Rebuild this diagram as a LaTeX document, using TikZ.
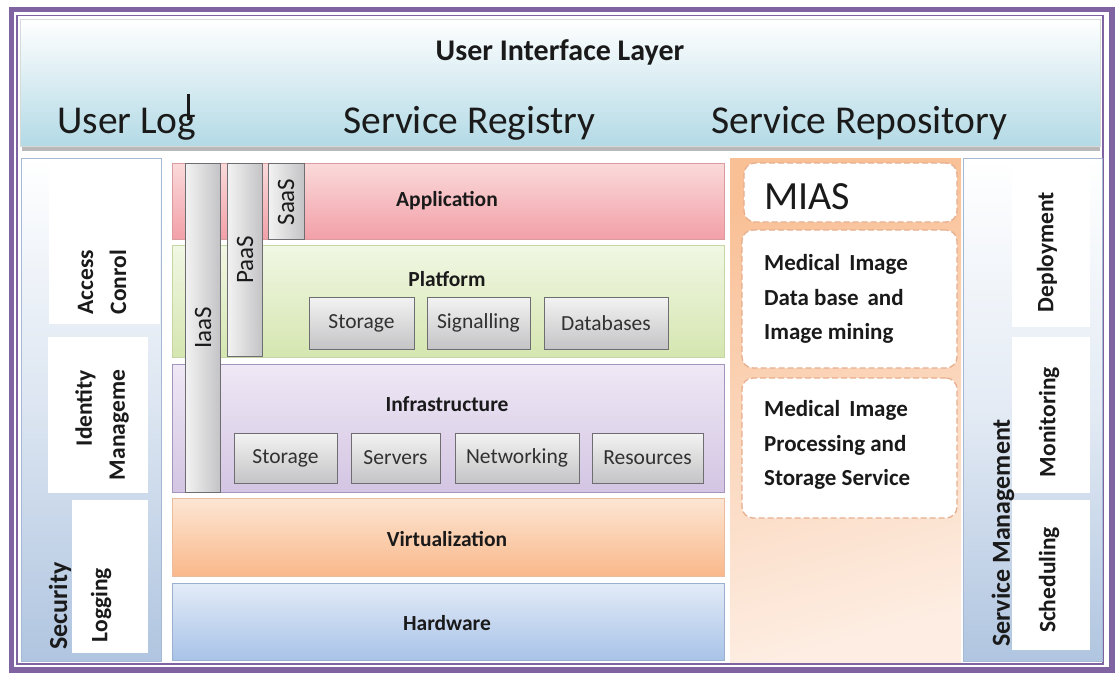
\documentclass[tikz,border=0pt]{standalone}
\usepackage{fontspec}
\setmainfont{Carlito}
\usetikzlibrary{shadings}
\definecolor{frame}{HTML}{8064A2}
\definecolor{hdrbot}{HTML}{B3DAE6}
\definecolor{secbot}{HTML}{B0C5E0}
\definecolor{secline}{HTML}{A5B9D4}
\definecolor{appt}{HTML}{FADADA}\definecolor{appb}{HTML}{F2A0A8}\definecolor{appl}{HTML}{D99AA0}
\definecolor{plat}{HTML}{F1F7E4}\definecolor{plab}{HTML}{D5E6B0}\definecolor{plal}{HTML}{C5D6A5}
\definecolor{inft}{HTML}{EFE8F5}\definecolor{infb}{HTML}{D3C5E3}\definecolor{infl}{HTML}{A595BE}
\definecolor{virt}{HTML}{FDE6D4}\definecolor{virb}{HTML}{F9B88A}\definecolor{virl}{HTML}{E8BC9C}
\definecolor{hwt}{HTML}{E3EBF7}\definecolor{hwb}{HTML}{A8C3E8}\definecolor{hwl}{HTML}{9AB0CE}
\definecolor{miast}{HTML}{F9C096}\definecolor{miasb}{HTML}{FDEDE2}
\definecolor{dashc}{HTML}{E6AF8E}
\definecolor{boxt}{HTML}{F3F3F3}\definecolor{boxb}{HTML}{C4C4C6}\definecolor{boxl}{HTML}{6E6E72}
\definecolor{txt}{HTML}{1A1A1A}
\tikzset{
  panel/.style={anchor=north west, inner sep=0pt, outer sep=0pt},
  band/.style={panel, line width=0.8pt},
  blabel/.style={inner sep=0pt, text=txt, font=\bfseries\fontsize{21.5}{25}\selectfont},
  gbox/.style={panel, draw=boxl, line width=1pt, top color=boxt, bottom color=boxb,
     text=txt!90, font=\fontsize{21.5}{25}\selectfont},
  vbar/.style={panel, draw=boxl, line width=1pt, left color=boxt, right color=boxb},
  vtext/.style={rotate=90, inner sep=0pt, text=txt, font=\fontsize{25}{27}\selectfont},
  stext/.style={rotate=90, inner sep=0pt, text=txt, font=\bfseries\fontsize{23.5}{33}\selectfont},
  dbox/.style={panel, draw=dashc, dash pattern=on 6pt off 3pt, line width=1.3pt, fill=white, rounded corners=11pt},
  wbox/.style={panel, fill=white},
  htext/.style={inner sep=0pt, text=txt, font=\fontsize{39.5}{42}\selectfont},
  mtext/.style={inner sep=0pt, anchor=west, align=left, text=txt, font=\bfseries\fontsize{23}{34.5}\selectfont}
}
\begin{document}
\begin{tikzpicture}[x=1pt,y=-1pt]
\useasboundingbox (0,0) rectangle (1120,673);
\fill[white] (0,0) rectangle (1120,673);
% outer frame
\draw[frame, line width=5.5pt] (11.5,9.5) rectangle (1112,670);
\draw[frame, line width=1.5pt] (17,15.5) rectangle (1103,664);
% header
\fill[gray!55] (22,146) rectangle (1100,151);
\node[panel, draw=gray!30, line width=0.6pt, top color=white, bottom color=hdrbot,
  minimum width=1080, minimum height=127] (hdr) at (20,19) {};
\node[inner sep=0pt, text=txt, font=\bfseries\fontsize{30}{32}\selectfont] (title) at (560,52) {User Interface Layer};
\node[htext, anchor=base west] (ulog) at (57,133) {User Log};
\node[htext, anchor=base west] (sreg) at (343,133) {Service Registry};
\node[htext, anchor=base west] (srep) at (711,133) {Service Repository};
\coordinate (cur1) at (188.5,94);
\coordinate (cur2) at (188.5,120);
\draw[txt, line width=2.2pt] (cur1) -- (cur2);
% security panel
\node[panel, draw=secline, line width=1pt, top color=white, bottom color=secbot, middle color=white!55!secbot,
  minimum width=140, minimum height=503] (sec) at (21,158) {};
\node[wbox, minimum width=111, minimum height=165] (acc) at (49,159) {};
\node[wbox, minimum width=100, minimum height=156] (idm) at (48,337) {};
\node[wbox, minimum width=76, minimum height=153] (logb) at (72,500) {};
\node[stext, align=center] (acct) at (102,282) {Access\\Conrol};
\node[stext, align=right] (idmt) at (102,425) {Identity\\Manageme};
\node[stext] (logt) at (101,605) {Logging};
\node[stext, font=\bfseries\fontsize{26}{30}\selectfont] (sect) at (60,606) {Security};
% service management panel
\node[panel, draw=secline, line width=1pt, top color=white, bottom color=secbot, middle color=white!65!secbot,
  minimum width=139, minimum height=503] (sm) at (963,158) {};
\node[wbox, minimum width=78, minimum height=162] (dep) at (1012,165) {};
\node[wbox, minimum width=78, minimum height=156] (mon) at (1012,337) {};
\node[wbox, minimum width=78, minimum height=150] (sch) at (1012,500) {};
\node[stext] (dept) at (1047,252) {Deployment};
\node[stext] (mont) at (1049,422) {Monitoring};
\node[stext] (scht) at (1049,580) {Scheduling};
\node[stext, font=\bfseries\fontsize{26}{30}\selectfont] (smt) at (1003,533) {Service Management};
% MIAS panel
\node[panel, top color=miast, bottom color=miasb, shading angle=15, minimum width=231, minimum height=504] (miasp) at (730,158) {};
\node[dbox, minimum width=213, minimum height=59] (miasb) at (744,163) {};
\node[inner sep=0pt, anchor=west, text=txt, font=\fontsize{40}{42}\selectfont] (miast) at (764,197) {MIAS};
\node[dbox, minimum width=215, minimum height=138] (mid) at (742,230) {};
\node[mtext] (midt) at (764,299) {Medical\,\ Image\\Data base\, and\\Image mining};
\node[dbox, minimum width=215, minimum height=140] (mip) at (742,378) {};
\node[mtext] (mipt) at (764,445) {Medical\,\ Image\\Processing and\\Storage Service};
% bands
\node[band, draw=appl, top color=appt, bottom color=appb, minimum width=552, minimum height=76] (app) at (172,163) {};
\node[band, draw=plal, top color=plat, bottom color=plab, minimum width=552, minimum height=112] (plat) at (172,245) {};
\node[band, draw=infl, top color=inft, bottom color=infb, minimum width=552, minimum height=128] (infra) at (172,364) {};
\node[band, draw=virl, top color=virt, bottom color=virb, minimum width=552, minimum height=78] (virt) at (172,498) {};
\node[band, draw=hwl, top color=hwt, bottom color=hwb, minimum width=552, minimum height=77] (hw) at (172,583) {};
\node[blabel] (appt) at (447,201) {Application};
\node[blabel] (platt) at (447,279) {Platform};
\node[blabel] (inft) at (447,404) {Infrastructure};
\node[blabel] (virtt) at (447,539) {Virtualization};
\node[blabel] (hwt) at (447,623) {Hardware};
% platform boxes
\node[gbox, minimum width=105, minimum height=52] (pst) at (309,297) {Storage};
\node[gbox, minimum width=103, minimum height=52] (psig) at (427,297) {Signalling};
\node[gbox, minimum width=124, minimum height=52] (pdb) at (544,297) {Databases};
% infrastructure boxes
\node[gbox, minimum width=103, minimum height=50] (ist) at (234,433) {Storage};
\node[gbox, minimum width=89, minimum height=50] (isv) at (351,433) {Servers};
\node[gbox, minimum width=124, minimum height=50] (inet) at (455,433) {Networking};
\node[gbox, minimum width=111, minimum height=50] (ires) at (592,433) {Resources};
% service bars
\node[vbar, minimum width=35, minimum height=329] (iaas) at (185,163) {};
\node[vbar, minimum width=35, minimum height=193] (paas) at (227,163) {};
\node[vbar, minimum width=36, minimum height=76] (saas) at (268,163) {};
\node[vtext] (iaast) at (203,328) {IaaS};
\node[vtext] (paast) at (245,260) {PaaS};
\node[vtext] (saast) at (286,202) {SaaS};
\end{tikzpicture}
\end{document}
